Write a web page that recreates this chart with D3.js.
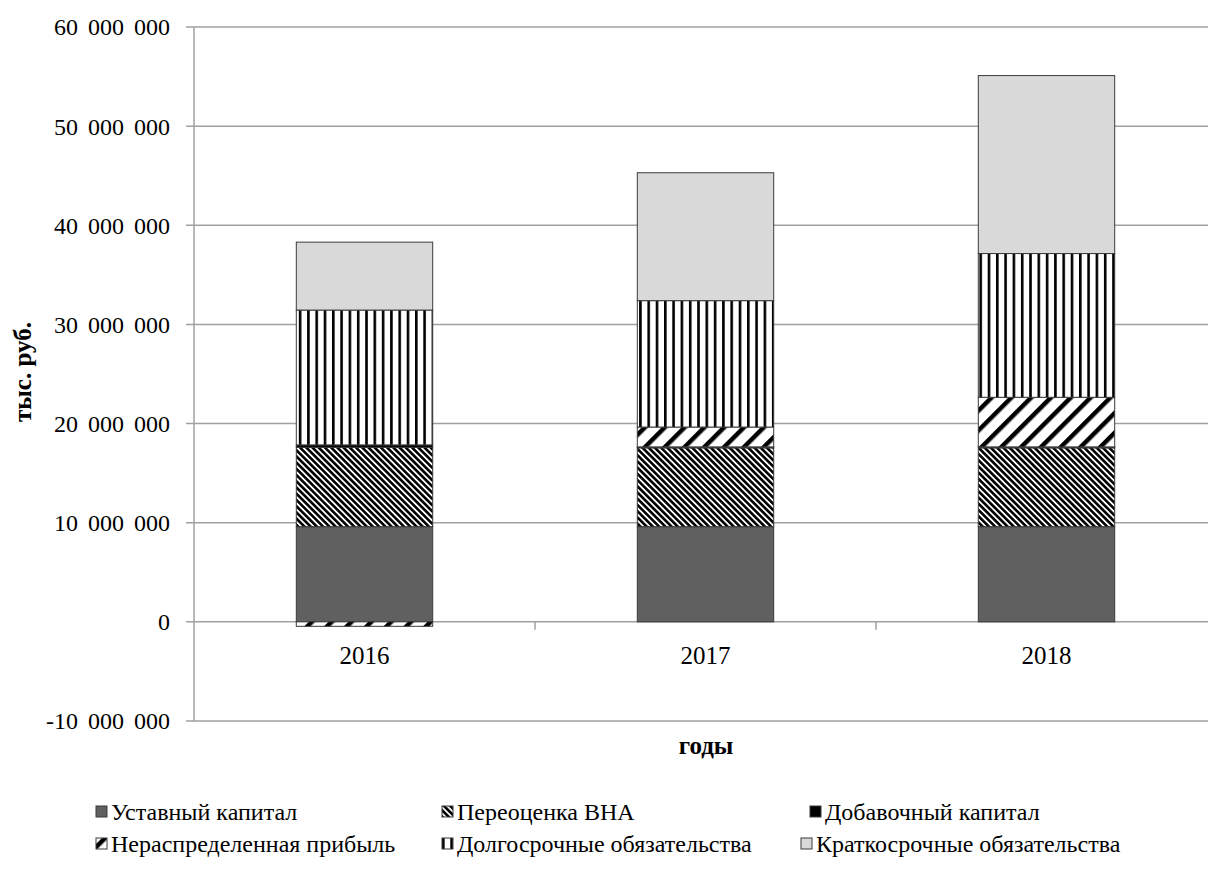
<!DOCTYPE html>
<html>
<head>
<meta charset="utf-8">
<script src="https://cdn.jsdelivr.net/npm/d3@7"></script>
<style>
  body { margin: 0; background: #fff; }
</style>
</head>
<body>
<svg id="chart"></svg>
<script>
var width = 1208, height = 870;

// Data (тыс. руб.)
var years = ["2016", "2017", "2018"];
var seriesNames = ["Уставный капитал", "Переоценка ВНА", "Добавочный капитал",
  "Нераспределенная прибыль", "Долгосрочные обязательства", "Краткосрочные обязательства"];
var ustavny = [9600000, 9600000, 9600000];
var pereocenka = [8000000, 7950000, 7950000];
var dobavochny = [250000, 100000, 100000];
var neraspr = [-450000, 2000000, 5000000];
var dolgosroch = [13600000, 12750000, 14500000];
var kratkosroch = [6850000, 12900000, 17950000];
var yTicks = [-10000000, 0, 10000000, 20000000, 30000000, 40000000, 50000000, 60000000];

var seriesValues = [ustavny, pereocenka, dobavochny, neraspr, dolgosroch, kratkosroch];

// table for d3.stack
var table = years.map(function (y, i) {
  var row = { year: y };
  seriesNames.forEach(function (s, j) { row[s] = seriesValues[j][i]; });
  return row;
});

var svg = d3.select("#chart")
  .attr("width", width)
  .attr("height", height)
  .attr("font-family", "'Liberation Serif', 'Times New Roman', serif");

// Patterns
var defs = svg.append("defs");
var fills = ["#606060", "url(#pPereoc)", "#000", "url(#pNeraspr)", "url(#pDolg)", "#d9d9d9"];

function stripePattern(id, step, sw, angle) {
  var p = defs.append("pattern")
    .attr("id", id)
    .attr("patternUnits", "userSpaceOnUse")
    .attr("width", step).attr("height", step)
    .attr("patternTransform", "rotate(" + angle + ")");
  p.append("rect").attr("width", step).attr("height", step).attr("fill", "#fff");
  p.append("rect").attr("x", 0).attr("y", 0).attr("width", sw).attr("height", step).attr("fill", "#000");
}
stripePattern("pPereoc", 4.4, 2.6, -45);
stripePattern("pNeraspr", 14, 4.5, 45);
stripePattern("pDolg", 8.3, 2.6, 0);

// Scales
var x = d3.scaleBand()
  .domain(years)
  .range([194, 1217])
  .paddingInner(0.6)
  .paddingOuter(0.3);

var y = d3.scaleLinear()
  .domain([-10000000, 60000000])
  .range([721, 27]);

var fmt = function (d) { return d3.format(",")(d).replace(/,/g, " ").replace("−", "-"); };

// Gridlines
svg.append("g")
  .selectAll("line")
  .data(yTicks)
  .enter()
  .append("line")
  .attr("x1", 186).attr("x2", width)
  .attr("y1", function (d) { return y(d); })
  .attr("y2", function (d) { return y(d); })
  .attr("stroke", "#a0a0a0")
  .attr("stroke-width", 1.5);

// Y axis line
svg.append("line")
  .attr("x1", 194).attr("x2", 194)
  .attr("y1", y(60000000)).attr("y2", y(-10000000))
  .attr("stroke", "#a0a0a0")
  .attr("stroke-width", 1.5);

// Category ticks along zero line
var bounds = [x.step() * 1 + 194, x.step() * 2 + 194];
svg.append("g")
  .selectAll("line")
  .data(bounds)
  .enter()
  .append("line")
  .attr("x1", function (d) { return d; })
  .attr("x2", function (d) { return d; })
  .attr("y1", y(0)).attr("y2", y(0) + 8)
  .attr("stroke", "#a0a0a0")
  .attr("stroke-width", 1.5);

// Y tick labels
svg.append("g")
  .selectAll("text")
  .data(yTicks)
  .enter()
  .append("text")
  .attr("x", 170)
  .attr("y", function (d) { return y(d); })
  .attr("dy", "0.35em")
  .attr("text-anchor", "end")
  .attr("font-size", 24)
  .attr("word-spacing", 4)
  .text(function (d) { return fmt(d); });

// Bars
var stack = d3.stack()
  .keys(seriesNames)
  .offset(d3.stackOffsetDiverging);
var layers = stack(table);

svg.append("g")
  .selectAll("g")
  .data(layers)
  .enter()
  .append("g")
  .attr("fill", function (d, i) { return fills[i]; })
  .selectAll("rect")
  .data(function (d) { return d; })
  .enter()
  .append("rect")
  .attr("x", function (d) { return x(d.data.year); })
  .attr("width", x.bandwidth())
  .attr("y", function (d) { return y(Math.max(d[0], d[1])); })
  .attr("height", function (d) { return Math.abs(y(d[0]) - y(d[1])); })
  .attr("stroke", "#3a3a3a")
  .attr("stroke-width", 1);

// Category labels
svg.append("g")
  .selectAll("text")
  .data(years)
  .enter()
  .append("text")
  .attr("x", function (d) { return x(d) + x.bandwidth() / 2; })
  .attr("y", 655)
  .attr("dy", "0.35em")
  .attr("text-anchor", "middle")
  .attr("font-size", 25)
  .text(function (d) { return d; });

// Axis titles
svg.append("text")
  .attr("x", 706).attr("y", 745)
  .attr("dy", "0.35em")
  .attr("text-anchor", "middle")
  .attr("font-size", 25)
  .attr("font-weight", "bold")
  .text("годы");

svg.append("text")
  .attr("transform", "translate(22,372) rotate(-90)")
  .attr("dy", "0.35em")
  .attr("text-anchor", "middle")
  .attr("font-size", 25)
  .attr("font-weight", "bold")
  .text("тыс. руб.");

// Legend
var legendPos = [
  [96, 812], [442, 812], [810, 812],
  [96, 844], [442, 844], [801, 844]
];
var legend = svg.append("g")
  .selectAll("g")
  .data(seriesNames)
  .enter()
  .append("g")
  .attr("transform", function (d, i) { return "translate(" + legendPos[i][0] + "," + legendPos[i][1] + ")"; });

legend.append("rect")
  .attr("x", 0).attr("y", -6)
  .attr("width", 11).attr("height", 11)
  .attr("fill", function (d, i) { return fills[i]; })
  .attr("stroke", "#3a3a3a")
  .attr("stroke-width", 1);

legend.append("text")
  .attr("x", 15)
  .attr("y", 0)
  .attr("dy", "0.35em")
  .attr("font-size", 24)
  .text(function (d) { return d; });
</script>
</body>
</html>
